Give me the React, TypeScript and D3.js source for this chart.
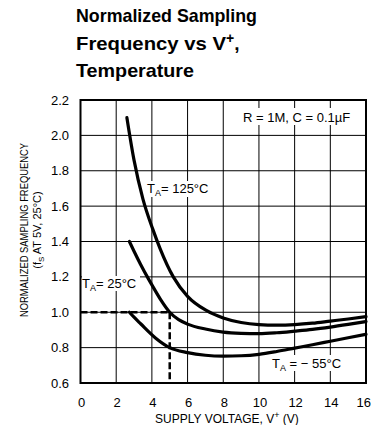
import React from "react";
import * as d3 from "d3";

const xTicks = [0, 2, 4, 6, 8, 10, 12, 14, 16];
const yTicks = [0.6, 0.8, 1.0, 1.2, 1.4, 1.6, 1.8, 2.0, 2.2];

const v125 = [2.6, 3.0, 3.5, 4.05, 4.46, 5.2, 6.0, 7.05, 8.0, 9.0, 10, 11, 12, 13, 14, 15, 16];
const f125 = [2.1, 1.86, 1.64, 1.47, 1.36, 1.2, 1.09, 1.01, 0.968, 0.942, 0.93, 0.927, 0.93, 0.938, 0.95, 0.962, 0.975];

const v25 = [2.74, 3.0, 3.37, 3.8, 4.0, 4.5, 5.0, 5.5, 6.0, 7.0, 8.0, 9.0, 10, 11, 12, 13, 14, 15, 16];
const f25 = [1.4, 1.345, 1.27, 1.19, 1.155, 1.07, 1.0, 0.958, 0.933, 0.905, 0.888, 0.881, 0.879, 0.884, 0.893, 0.903, 0.916, 0.931, 0.947];

const vm55 = [2.74, 3.0, 3.37, 4.2, 5.0, 6.0, 7.0, 8.0, 9.0, 10, 11, 12, 13, 14, 15, 16];
const fm55 = [1.0, 0.972, 0.935, 0.855, 0.8, 0.772, 0.757, 0.752, 0.754, 0.762, 0.778, 0.797, 0.816, 0.836, 0.856, 0.875];

const refV = 5;
const refF = 1.0;

const FONT = "'Liberation Sans Narrow', 'Arial Narrow', 'Liberation Sans', Arial, sans-serif";

export default function App() {
  const W = 372, H = 425;
  const x = d3.scaleLinear().domain([0, 16]).range([80.5, 366]);
  const y = d3.scaleLinear().domain([0.6, 2.2]).range([383, 100]);
  const line = d3
    .line<[number, number]>()
    .x((d) => x(d[0]))
    .y((d) => y(d[1]))
    .curve(d3.curveMonotoneX);
  const series = [
    v125.map((v, i) => [v, f125[i]] as [number, number]),
    v25.map((v, i) => [v, f25[i]] as [number, number]),
    vm55.map((v, i) => [v, fm55[i]] as [number, number]),
  ];
  const [x0, x1] = x.range();
  const [y0, y1] = y.range();

  return (
    <svg width={W} height={H} style={{ position: "absolute", left: 0, top: 0, background: "#fff" }}>
      <rect x={0} y={0} width={W} height={H} fill="#fff" />
      {/* title */}
      <g fontFamily={FONT} fontWeight="bold" fontSize={19} fill="#000">
        <text x={76} y={22} textLength={181} lengthAdjust="spacingAndGlyphs">Normalized Sampling</text>
        <text x={76} y={50}>
          <tspan textLength={150} lengthAdjust="spacingAndGlyphs">Frequency vs V</tspan>
          <tspan fontSize={14} dy={-7}>+</tspan>
          <tspan dy={7}>,</tspan>
        </text>
        <text x={76} y={77} textLength={118} lengthAdjust="spacingAndGlyphs">Temperature</text>
      </g>
      {/* grid */}
      <g stroke="#000" strokeWidth={1}>
        {xTicks.map((t) => (
          <line key={"gx" + t} x1={x(t)} x2={x(t)} y1={y1} y2={y0} />
        ))}
        {yTicks.map((t) => (
          <line key={"gy" + t} x1={x0} x2={x1} y1={y(t)} y2={y(t)} />
        ))}
      </g>
      <rect x={x0} y={y1} width={x1 - x0} height={y0 - y1} fill="none" stroke="#000" strokeWidth={2} />
      {/* tick labels */}
      <g fontFamily={FONT} fontSize={13} fill="#000">
        {yTicks.map((t) => (
          <text key={"ty" + t} x={69} y={y(t) + 4.5} textAnchor="end">
            {t.toFixed(1)}
          </text>
        ))}
        {xTicks.map((t, i) => (
          <text
            key={"tx" + t}
            x={i === xTicks.length - 1 ? 371 : x(t) + 1}
            y={407}
            textAnchor={i === xTicks.length - 1 ? "end" : "middle"}
          >
            {t}
          </text>
        ))}
      </g>
      {/* axis titles */}
      <text x={227} y={423} textAnchor="middle" fontFamily={FONT} fontSize={12} fill="#000">
        SUPPLY VOLTAGE, V<tspan fontSize={9} dy={-5}>+</tspan>
        <tspan dy={5}> (V)</tspan>
      </text>
      <g transform="translate(28,230) rotate(-90)" fontFamily={FONT} fontSize={11} fill="#000">
        <text x={0} y={0} textAnchor="middle" textLength={174} lengthAdjust="spacingAndGlyphs">
          NORMALIZED SAMPLING FREQUENCY
        </text>
        <text x={0} y={13} textAnchor="middle">
          (f<tspan fontSize={8} dy={3}>S</tspan>
          <tspan dy={-3}> AT 5V, 25°C)</tspan>
        </text>
      </g>
      {/* reference dashed lines */}
      <g stroke="#000" strokeWidth={2.5} strokeDasharray="7,3" fill="none">
        <line x1={x0} x2={x(refV)} y1={y(refF)} y2={y(refF)} />
        <line x1={x(refV)} x2={x(refV)} y1={y(refF)} y2={y0} />
      </g>
      {/* curves */}
      {series.map((s, i) => (
        <path key={"s" + i} d={line(s) || ""} fill="none" stroke="#000" strokeWidth={3.2} strokeLinecap="round" />
      ))}
      {/* labels */}
      <g fontFamily={FONT} fontSize={13} fill="#000">
        <rect x={241} y={108} width={106} height={17} fill="#fff" />
        <text x={243} y={122}>R = 1M, C = 0.1µF</text>
        <rect x={146} y={181} width={66} height={16} fill="#fff" />
        <text x={147} y={193}>
          T<tspan fontSize={9} dy={3}>A</tspan>
          <tspan dy={-3}>= 125°C</tspan>
        </text>
        <rect x={82} y={276} width={58} height={15} fill="#fff" />
        <text x={82} y={288}>
          T<tspan fontSize={9} dy={3}>A</tspan>
          <tspan dy={-3}>= 25°C</tspan>
        </text>
        <rect x={271} y={355} width={75} height={16} fill="#fff" />
        <text x={272} y={368}>
          T<tspan fontSize={9} dy={3}>A</tspan>
          <tspan dy={-3}> = − 55°C</tspan>
        </text>
      </g>
    </svg>
  );
}
